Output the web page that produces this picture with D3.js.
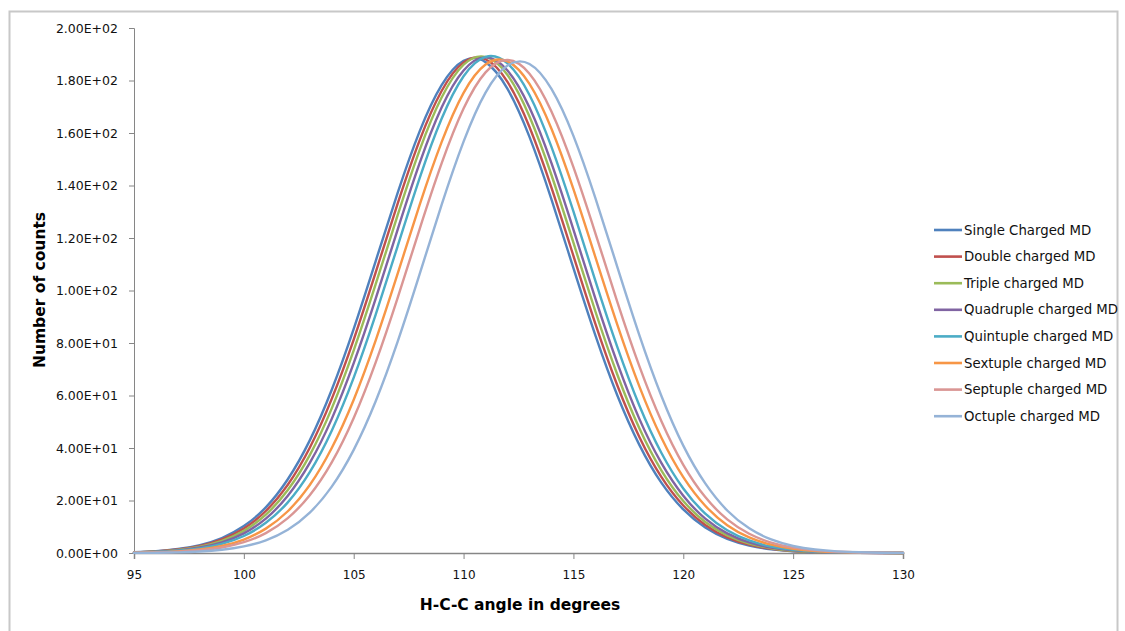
<!DOCTYPE html>
<html><head><meta charset="utf-8">
<script src="https://cdn.jsdelivr.net/npm/d3@7"></script>
<style>
html,body{margin:0;padding:0;background:#fff;}
svg{display:block;}
</style></head>
<body>
<svg id="chart" width="1125" height="631"></svg>
<script>
// ---- data ----
const angles = d3.range(95, 131); // 95..130 degrees
const seriesNames = ["Single Charged MD","Double charged MD","Triple charged MD","Quadruple charged MD",
  "Quintuple charged MD","Sextuple charged MD","Septuple charged MD","Octuple charged MD"];
const seriesColors = ["#4F81BD","#C0504D","#9BBB59","#8064A2","#4BACC6","#F79646","#DA9694","#95B3D7"];

const single = [0.34,0.72,1.51,3.02,5.72,10.25,17.4,28.1,42.9,62.2,85.4,111.2,137.2,160.6,178.2,187.5,187.0,176.8,158.5,134.7,108.5,82.9,60.0,41.2,26.8,16.6,9.69,5.38,2.83,1.41,0.67,0.30,0.13,0.05,0.02,0.01];
const double_ = [0.28,0.63,1.34,2.70,5.15,9.33,16.0,26.0,40.1,58.7,81.3,106.9,133.1,157.2,176.0,186.9,188.1,179.5,162.3,139.2,113.2,87.3,63.8,44.2,29.0,18.1,10.7,5.97,3.17,1.60,0.76,0.34,0.15,0.06,0.02,0.01];
const triple = [0.24,0.55,1.18,2.40,4.62,8.44,14.6,24.0,37.3,55.1,77.2,102.4,128.7,153.5,173.5,186.0,189.0,182.1,166.3,144.0,118.2,92.0,67.9,47.5,31.5,19.8,11.8,6.67,3.58,1.82,0.87,0.40,0.17,0.07,0.03,0.01];
const quadruple = [0.20,0.47,1.01,2.08,4.06,7.50,13.1,21.8,34.3,51.1,72.3,96.9,123.2,148.5,169.7,183.8,188.8,183.8,169.7,148.5,123.2,96.9,72.3,51.1,34.3,21.8,13.1,7.50,4.06,2.08,1.01,0.47,0.20,0.085,0.034,0.013];
const quintuple = [0.17,0.38,0.84,1.75,3.46,6.48,11.5,19.3,30.8,46.6,66.8,90.8,116.9,142.8,165.4,181.6,189.0,186.5,174.5,154.7,130.1,103.7,78.4,56.2,38.2,24.6,15.0,8.69,4.77,2.48,1.22,0.57,0.25,0.11,0.04,0.02];
const sextuple = [0.12,0.28,0.63,1.33,2.69,5.13,9.29,15.9,25.9,40.0,58.4,81.0,106.4,132.6,156.5,175.3,186.1,187.3,178.7,161.6,138.6,112.7,86.9,63.5,44.0,28.9,18.0,10.6,5.94,3.16,1.59,0.76,0.34,0.15,0.06,0.02];
const septuple = [0.09,0.21,0.48,1.03,2.11,4.11,7.59,13.3,22.0,34.5,51.4,72.6,97.2,123.4,148.4,169.3,183.1,187.8,182.6,168.2,147.0,121.8,95.6,71.2,50.3,33.6,21.3,12.8,7.33,3.96,2.03,0.99,0.45,0.20,0.08,0.03];
const octuple = [0.04,0.10,0.25,0.57,1.22,2.50,4.85,8.88,15.4,25.3,39.3,57.8,80.5,106.2,132.6,156.7,175.4,185.7,186.3,176.8,158.9,135.2,108.9,83.0,59.9,40.9,26.5,16.2,9.40,5.16,2.68,1.32,0.61,0.27,0.11,0.04];

const seriesValues = [single,double_,triple,quadruple,quintuple,sextuple,septuple,octuple];
const xTicks = [95,100,105,110,115,120,125,130];
const yTicks = [0,20,40,60,80,100,120,140,160,180,200];
const yTickLabels = ["0.00E+00","2.00E+01","4.00E+01","6.00E+01","8.00E+01","1.00E+02","1.20E+02","1.40E+02","1.60E+02","1.80E+02","2.00E+02"];
const xTitle = "H-C-C angle in degrees";
const yTitle = "Number of counts";

// ---- drawing ----
const svg = d3.select("#chart");
const FONT = "'DejaVu Sans', sans-serif";

// outer frame
svg.append("rect").attr("x",9.5).attr("y",11.5).attr("width",1108).attr("height",640)
  .attr("fill","none").attr("stroke","#c8c8c8").attr("stroke-width",2);

const x = d3.scaleLinear().domain([95,130]).range([134,903]);
const y = d3.scaleLinear().domain([0,200]).range([553,28]);

// y axis
const yAxis = d3.axisLeft(y).tickValues(yTicks).tickSize(5).tickPadding(11)
  .tickFormat((d,i)=>yTickLabels[i]);
const gy = svg.append("g").attr("transform","translate(134,0)").call(yAxis);
gy.select(".domain").attr("stroke","#868686");
gy.selectAll(".tick line").attr("stroke","#868686");
gy.selectAll(".tick text").attr("font-family",FONT).attr("font-size","12.5px").attr("fill","#111");

// x axis
const xAxis = d3.axisBottom(x).tickValues(xTicks).tickSize(6).tickPadding(11).tickFormat(d3.format("d"));
const gx = svg.append("g").attr("transform","translate(0,553)").call(xAxis);
gx.select(".domain").attr("stroke","#868686").attr("stroke-width",1.5);
gx.selectAll(".tick line").attr("stroke","#868686");
gx.selectAll(".tick text").attr("font-family",FONT).attr("font-size","12px").attr("fill","#111");

// lines
const line = d3.line().x((d,i)=>x(angles[i])).y(d=>y(d)).curve(d3.curveNatural);
seriesValues.forEach((vals,k)=>{
  svg.append("path").datum(vals).attr("d",line)
    .attr("fill","none").attr("stroke",seriesColors[k]).attr("stroke-width",2.4)
    .attr("stroke-linejoin","round").attr("stroke-linecap","round");
});

// titles
svg.append("text").attr("x",520).attr("y",610).attr("text-anchor","middle")
  .attr("font-family",FONT).attr("font-weight","bold").attr("font-size","15.5px").attr("fill","#000").text(xTitle);
svg.append("text").attr("transform","translate(45,290) rotate(-90)").attr("text-anchor","middle")
  .attr("font-family",FONT).attr("font-weight","bold").attr("font-size","15.5px").attr("fill","#000").text(yTitle);

// legend
const lg = svg.append("g");
seriesNames.forEach((name,k)=>{
  const yy = 230 + k*26.6;
  lg.append("line").attr("x1",934).attr("x2",962).attr("y1",yy).attr("y2",yy)
    .attr("stroke",seriesColors[k]).attr("stroke-width",2.6);
  lg.append("text").attr("x",964).attr("y",yy).attr("dy","0.35em")
    .attr("font-family",FONT).attr("font-size","13.3px").attr("fill","#111").text(name);
});
</script>
</body></html>
